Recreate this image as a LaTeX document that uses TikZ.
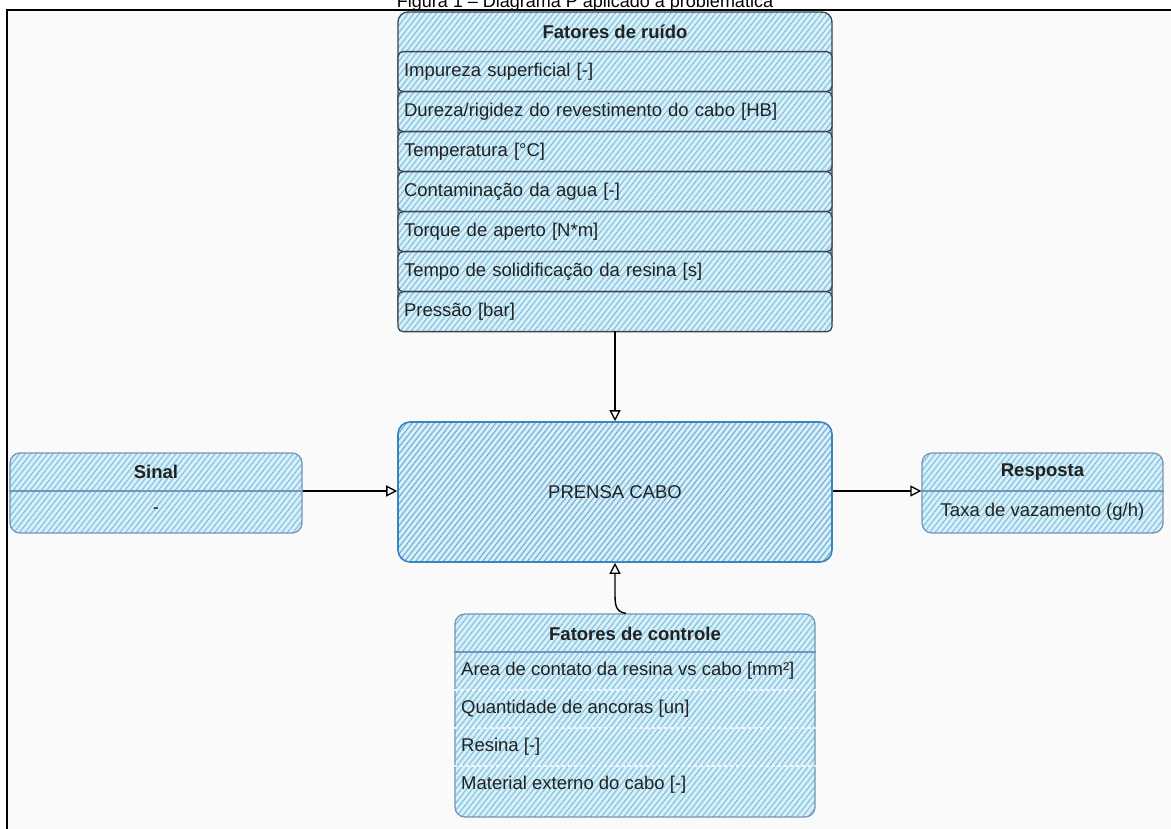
\documentclass[tikz,border=0pt]{standalone}
\usepackage{fontspec}
\setmainfont{Liberation Sans}
\usetikzlibrary{arrows.meta,patterns.meta}
\definecolor{bgc}{HTML}{FAFAFA}
\definecolor{hatchbg}{HTML}{DCEFF7}
\definecolor{hatchln}{HTML}{7FC6E3}
\definecolor{hatchln2}{HTML}{74B6DD}
\definecolor{darkst}{HTML}{3A4550}
\definecolor{bluest}{HTML}{7396BA}
\definecolor{prensast}{HTML}{3C84BE}
\definecolor{txt}{HTML}{222222}
\tikzset{
  hatched/.style={preaction={fill=hatchbg}, pattern={Lines[angle=52,distance=4.4pt,line width=1.2pt]}, pattern color=hatchln},
  hatchedp/.style={preaction={fill=hatchbg}, pattern={Lines[angle=52,distance=4.4pt,line width=1.3pt]}, pattern color=hatchln2},
  outerbox/.style={hatched, draw=darkst, line width=1.3pt, rounded corners=10pt, inner sep=0pt},
  rowbox/.style={hatched, draw=darkst, line width=1.3pt, rounded corners=5pt, minimum width=434pt, minimum height=40pt, text width=422pt, align=left, inner xsep=6pt, inner ysep=0pt, anchor=north, font=\fontsize{18.5}{21}\selectfont, text=txt},
  sidebox/.style={hatched, draw=bluest, line width=1.3pt, rounded corners=10pt, inner sep=0pt},
  headtxt/.style={font=\bfseries\fontsize{18.5}{21}\selectfont, text=txt, inner sep=0pt},
  itemtxt/.style={font=\fontsize{18.5}{21}\selectfont, text=txt, inner sep=0pt},
  arr/.style={draw=black, line width=1.4pt, -{Triangle[open,length=11pt,width=11pt,line width=1.3pt]}},
}
\begin{document}
\begin{tikzpicture}[x=1pt,y=-1pt]
\useasboundingbox (0,0) rectangle (1171,829);
\clip (0,0) rectangle (1171,829);
\fill[white] (0,0) rectangle (1171,829);
\fill[bgc] (7,10) rectangle (1171,829);
\node[anchor=base, font=\fontsize{18}{21}\selectfont, inner sep=0pt] (title) at (585,8) {Figura 1 – Diagrama P aplicado à problemática};
\draw[line width=2.5pt] (7,829) -- (7,10) -- (1171,10);

% Fatores de ruido
\node[outerbox, minimum width=434pt, minimum height=318pt] (ruido) at (615,171) {};
\node[headtxt] (ruidot) at (615,32) {Fatores de ruído};
\node[rowbox] (r1) at (615,51) {Impureza superficial [-]};
\node[rowbox] (r2) at (615,91) {Dureza/rigidez do revestimento do cabo [HB]};
\node[rowbox] (r3) at (615,131) {Temperatura [°C]};
\node[rowbox] (r4) at (615,171) {Contaminação da agua [-]};
\node[rowbox] (r5) at (615,211) {Torque de aperto [N*m]};
\node[rowbox] (r6) at (615,251) {Tempo de solidificação da resina [s]};
\node[rowbox] (r7) at (615,291) {Pressão [bar]};

% Prensa cabo
\node[hatchedp, draw=prensast, line width=1.6pt, rounded corners=12pt, minimum width=434pt, minimum height=140pt, font=\fontsize{18.5}{21}\selectfont, text=txt] (prensa) at (615,492) {PRENSA CABO};

% Sinal
\node[sidebox, minimum width=292pt, minimum height=80pt] (sinal) at (156,493) {};
\draw[bluest, line width=1.2pt] (sinal.west |- 0,491) -- (sinal.east |- 0,491);
\node[headtxt] (sinalt) at (156,472) {Sinal};
\node[itemtxt] (sinalv) at (156,511) {-};

% Resposta
\node[sidebox, minimum width=241pt, minimum height=80pt] (resp) at (1042.5,493) {};
\draw[bluest, line width=1.2pt] (resp.west |- 0,491) -- (resp.east |- 0,491);
\node[headtxt] (respt) at (1042.5,472) {Resposta};
\node[itemtxt] (respv) at (1042.5,512) {Taxa de vazamento (g/h)};

% Fatores de controle
\node[sidebox, minimum width=360pt, minimum height=203pt] (ctrl) at (635,715.5) {};
\draw[bluest, line width=1.2pt] (ctrl.west |- 0,652) -- (ctrl.east |- 0,652);
\foreach \yy in {690,728,766} \draw[white, line width=1.2pt, dashed, opacity=0.8] (ctrl.west |- 0,\yy) -- (ctrl.east |- 0,\yy);
\node[headtxt] (ctrlt) at (635,634) {Fatores de controle};
\node[itemtxt, anchor=west] (c1) at (461,671) {Area de contato da resina vs cabo [mm²]};
\node[itemtxt, anchor=west] (c2) at (461,709) {Quantidade de ancoras [un]};
\node[itemtxt, anchor=west] (c3) at (461,747) {Resina [-]};
\node[itemtxt, anchor=west] (c4) at (461,785) {Material externo do cabo [-]};

% connectors
\draw[arr] (ruido.south) -- (prensa.north);
\draw[arr] (sinal.east |- 0,491) -- (prensa.west |- 0,491);
\draw[arr] (prensa.east |- 0,491) -- (resp.west |- 0,491);
\coordinate (cs) at ([xshift=-9pt]ctrl.north);
\draw[arr] (cs) .. controls (615,612) and (615,604) .. (615,592) -- (prensa.south);
\end{tikzpicture}
\end{document}
